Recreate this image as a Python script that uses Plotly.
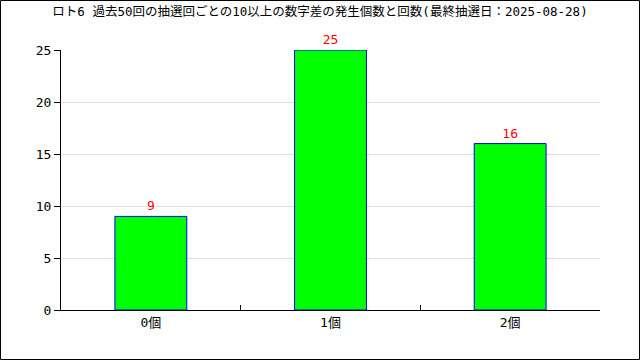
import plotly.graph_objects as go

categories = ["0個", "1個", "2個"]
counts = [9, 25, 16]
title_text = "ロト6 過去50回の抽選回ごとの10以上の数字差の発生個数と回数(最終抽選日：2025-08-28)"

FONT = "DejaVu Sans Mono, Noto Sans CJK JP, monospace"

fig = go.Figure(go.Bar(
    x=categories, y=counts, width=0.4,
    marker=dict(color="#00ff00", line=dict(color="#0000ff", width=1)),
    text=[str(v) for v in counts], textposition="outside",
    textfont=dict(color="#ff0000", size=13, family=FONT),
    cliponaxis=False,
))

L, R, T, B = 61, 40, 50, 50
W, H = 640, 360
pw, ph = W - L - R, H - T - B

fig.update_layout(
    width=W, height=H,
    margin=dict(l=L, r=R, t=T, b=B),
    paper_bgcolor="white", plot_bgcolor="white",
    font=dict(family=FONT, size=13, color="black"),
    title=dict(text=title_text, x=0.5, xanchor="center", y=1 - 12 / H, yanchor="middle",
               font=dict(size=12.5, family=FONT)),
    showlegend=False,
    bargap=0.6,
)
fig.update_xaxes(
    showline=True, linecolor="black", linewidth=1,
    ticks="inside", tickson="boundaries", ticklen=5, tickcolor="black",
    showgrid=False, tickfont=dict(size=13),
)
fig.update_yaxes(
    range=[0, 25], tickvals=[0, 5, 10, 15, 20, 25],
    showline=True, linecolor="black", linewidth=1,
    ticks="outside", ticklen=6, tickcolor="black",
    showgrid=True, gridcolor="#dddddd", gridwidth=1, zeroline=False,
    tickfont=dict(size=13),
)
fig.add_shape(type="rect", xref="paper", yref="paper",
              x0=-(L - 0.5) / pw, x1=(W - L - 0.5) / pw,
              y0=-(B - 0.5) / ph, y1=(H - B - 0.5) / ph,
              line=dict(color="black", width=1), layer="above")

fig.write_html("out.html", config={"displayModeBar": False},
               post_script="document.body.style.margin='0';")
